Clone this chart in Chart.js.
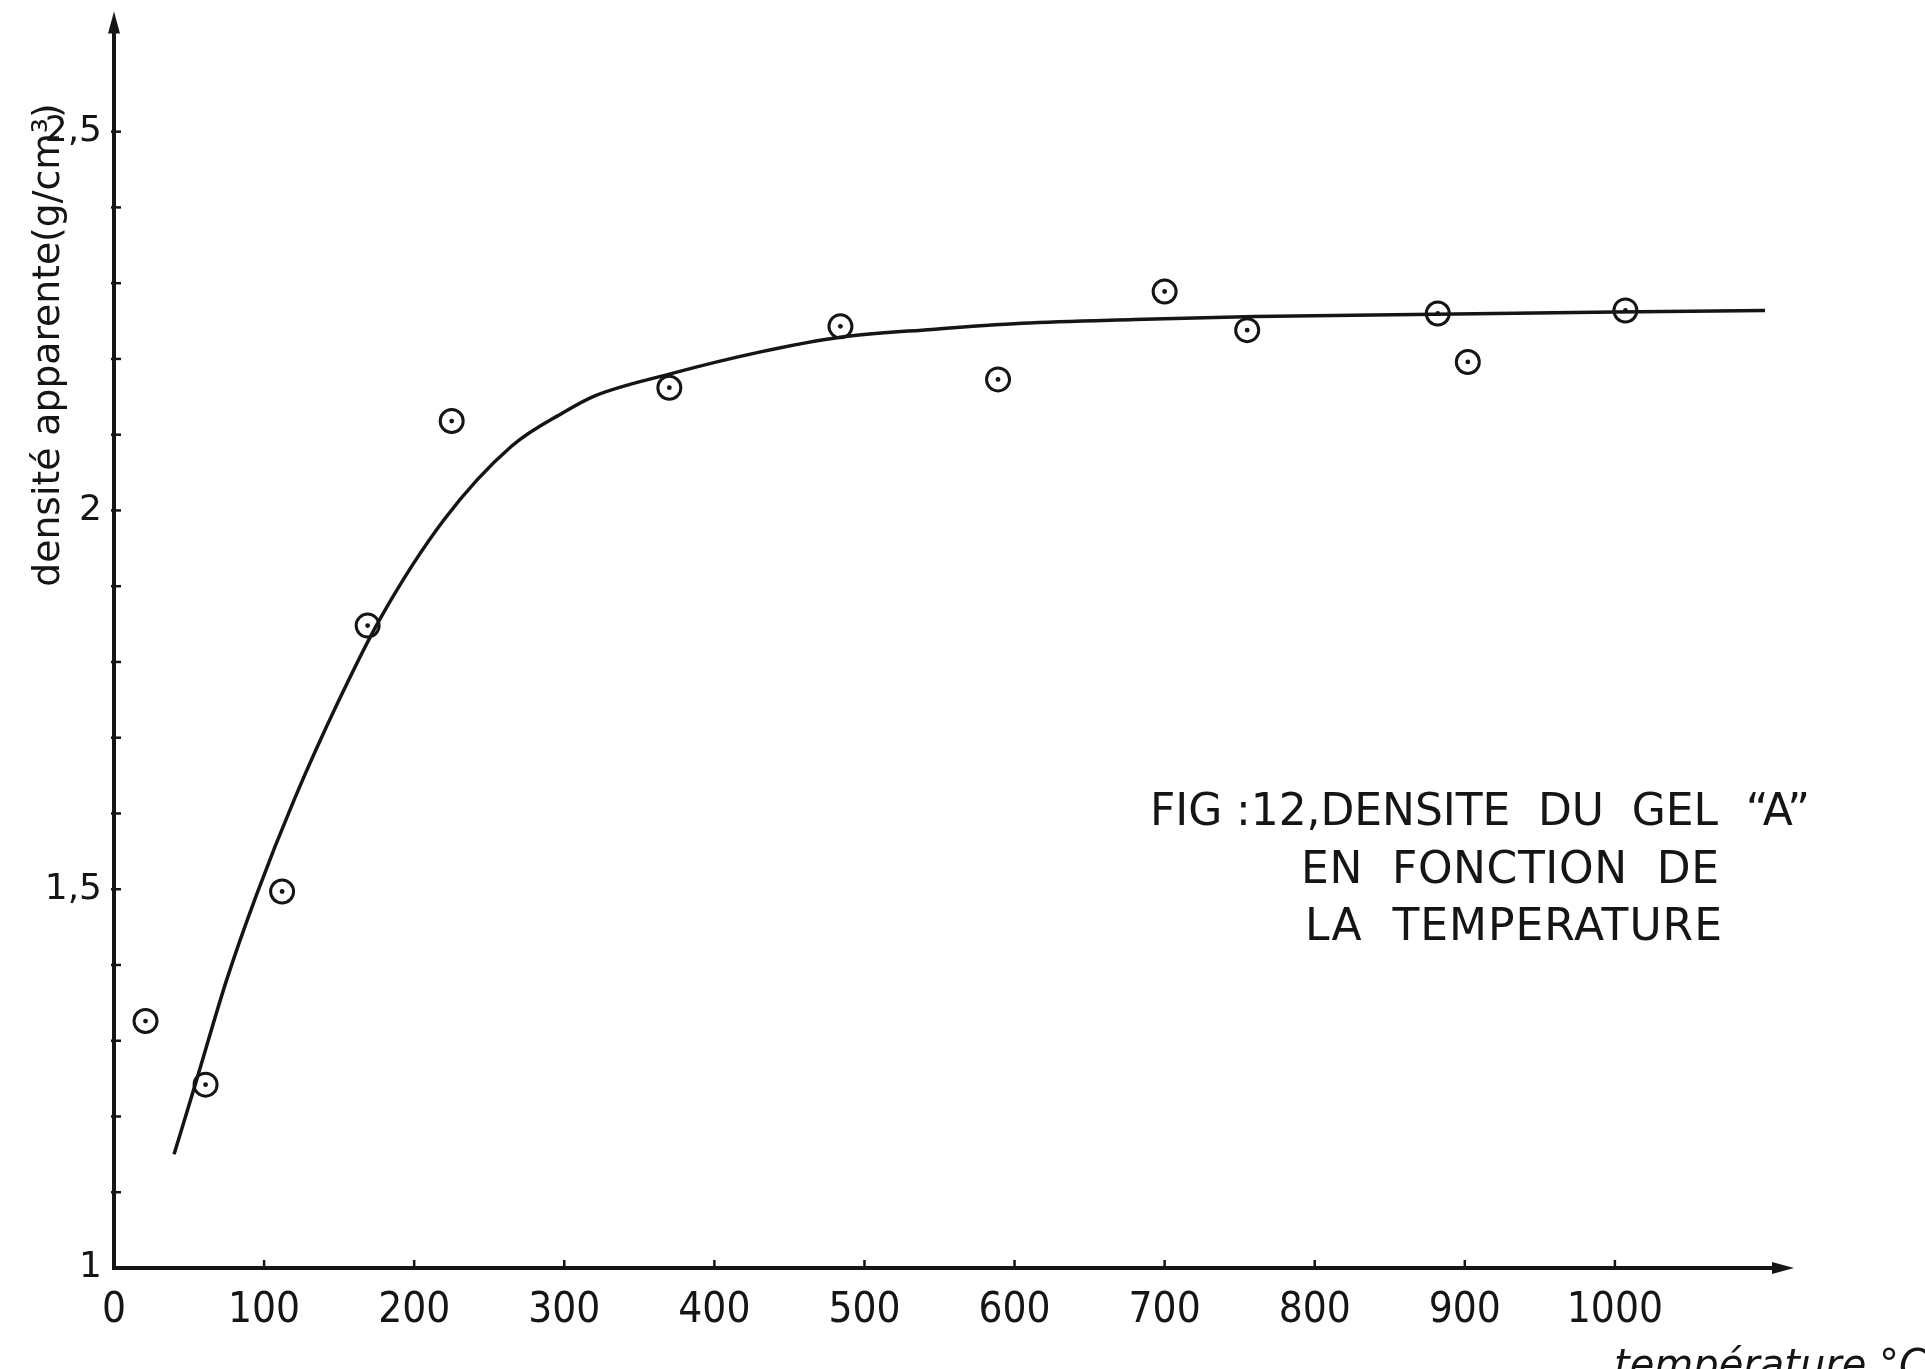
<!DOCTYPE html>
<html><head><meta charset="utf-8">
<script src="https://cdn.jsdelivr.net/npm/chart.js@4.4.1/dist/chart.umd.min.js"></script>
<style>html,body{margin:0;padding:0;background:#fff;}canvas{display:block}</style>
</head><body>
<canvas id="c" width="1925" height="1369"></canvas>
<script>
// ---- data ----
const pointTemps     = [21, 61, 112, 169, 225, 370, 484, 589, 700, 755, 882, 902, 1007];
const pointDensities = [1.326, 1.242, 1.497, 1.848, 2.118, 2.162, 2.243, 2.173, 2.289, 2.238, 2.260, 2.196, 2.264];
const curveTemps     = [40, 55, 75, 95, 120, 150, 177, 220, 265, 300, 320, 370, 430, 485, 545, 605, 680, 760, 880, 1000, 1100];
const curveDensities = [1.15, 1.248, 1.38, 1.493, 1.618, 1.75, 1.856, 1.988, 2.085, 2.13, 2.151, 2.18, 2.209, 2.229, 2.239, 2.247, 2.252, 2.256, 2.259, 2.262, 2.264];
const xTickValues = [0, 100, 200, 300, 400, 500, 600, 700, 800, 900, 1000];
const xTickLabels = ['0', '100', '200', '300', '400', '500', '600', '700', '800', '900', '1000'];
const yTickValues = [1, 1.1, 1.2, 1.3, 1.4, 1.5, 1.6, 1.7, 1.8, 1.9, 2, 2.1, 2.2, 2.3, 2.4, 2.5];
const yTickLabels = ['1', '', '', '', '', '1,5', '', '', '', '', '2', '', '', '', '', '2,5'];
const yAxisTitle = 'densité apparente(g/cm³)';
const xAxisTitle = 'température °C';
const figCaption = ['FIG :12,DENSITE  DU  GEL  “A”', 'EN  FONCTION  DE', 'LA  TEMPERATURE'];

const INK = '#151515';
const toXY = (xs, ys) => xs.map((x, i) => ({x: x, y: ys[i]}));

function fitText(ctx, text, x, y, target) {
  if ('letterSpacing' in ctx) {
    ctx.letterSpacing = '0px';
    const w = ctx.measureText(text).width;
    const ls = (target - w) / Math.max(1, text.length - 1);
    ctx.letterSpacing = ls.toFixed(2) + 'px';
    ctx.fillText(text, x, y);
    ctx.letterSpacing = '0px';
  } else {
    const w = ctx.measureText(text).width;
    ctx.save(); ctx.translate(x, y); ctx.scale(target / w, 1); ctx.fillText(text, 0, 0); ctx.restore();
  }
}

const decor = {
  id: 'decor',
  afterDraw(chart) {
    const ctx = chart.ctx, xs = chart.scales.x, ys = chart.scales.y, a = chart.chartArea;
    ctx.save();
    ctx.strokeStyle = INK; ctx.fillStyle = INK; ctx.lineWidth = 2.5;
    // inward tick marks
    xTickValues.forEach(v => { if (v === 0) return; const px = xs.getPixelForValue(v);
      ctx.beginPath(); ctx.moveTo(px, a.bottom); ctx.lineTo(px, a.bottom - 8); ctx.stroke(); });
    yTickValues.forEach(v => { if (v === 1) return; const py = ys.getPixelForValue(v);
      ctx.beginPath(); ctx.moveTo(a.left - 3, py); ctx.lineTo(a.left + 7, py); ctx.stroke(); });
    // arrowheads
    ctx.beginPath(); ctx.moveTo(a.left, a.top - 14); ctx.lineTo(a.left - 6, a.top + 8); ctx.lineTo(a.left + 6, a.top + 8); ctx.closePath(); ctx.fill();
    ctx.beginPath(); ctx.moveTo(a.right + 14, a.bottom); ctx.lineTo(a.right - 8, a.bottom - 6); ctx.lineTo(a.right - 8, a.bottom + 6); ctx.closePath(); ctx.fill();
    // y-axis title
    ctx.save();
    ctx.translate(49, 345); ctx.rotate(-Math.PI / 2);
    ctx.font = '33px "DejaVu Sans", sans-serif';
    ctx.textAlign = 'center'; ctx.textBaseline = 'middle';
    const tw = ctx.measureText(yAxisTitle).width;
    const fs = Math.max(26, Math.min(40, 33 * 483 / tw));
    ctx.font = fs.toFixed(1) + 'px "DejaVu Sans", sans-serif';
    ctx.fillText(yAxisTitle, 0, 0);
    ctx.restore();
    // caption
    ctx.font = '44px "DejaVu Sans", sans-serif';
    ctx.textAlign = 'left'; ctx.textBaseline = 'alphabetic';
    fitText(ctx, figCaption[0], 1150, 825, 660);
    fitText(ctx, figCaption[1], 1301, 883, 418);
    fitText(ctx, figCaption[2], 1305, 940, 417);
    // x-axis title (cut at bottom edge)
    ctx.font = 'italic 40px "DejaVu Sans", sans-serif';
    ctx.fillText(xAxisTitle, 1614, 1378);
    ctx.restore();
  }
};

new Chart(document.getElementById('c'), {
  type: 'scatter',
  data: {
    datasets: [
      { data: toXY(curveTemps, curveDensities), showLine: true, pointRadius: 0, borderColor: INK, borderWidth: 3.5,
        cubicInterpolationMode: 'monotone', fill: false, order: 3 },
      { data: toXY(pointTemps, pointDensities), showLine: false, pointRadius: 11.5, pointBorderWidth: 3,
        pointBorderColor: INK, pointBackgroundColor: 'rgba(0,0,0,0)', order: 2 },
      { data: toXY(pointTemps, pointDensities), showLine: false, pointRadius: 2.4, pointBorderWidth: 0,
        pointBackgroundColor: INK, order: 1 }
    ]
  },
  options: {
    responsive: false, animation: false, devicePixelRatio: 1,
    layout: { padding: { top: 25, right: 145, bottom: 0, left: 0 } },
    plugins: { legend: { display: false }, tooltip: { enabled: false } },
    scales: {
      x: {
        type: 'linear', min: 0, max: 1110,
        afterBuildTicks: s => { s.ticks = xTickValues.map(v => ({ value: v })); },
        afterFit: s => { s.height = 101; },
        grid: { display: false },
        border: { display: true, color: INK, width: 4 },
        ticks: { autoSkip: false, maxRotation: 0, padding: 10, color: INK,
          font: { family: '"Liberation Sans Narrow", "DejaVu Sans Condensed", "Liberation Sans", sans-serif', size: 42 },
          callback: v => xTickLabels[xTickValues.indexOf(v)] }
      },
      y: {
        type: 'linear', min: 1, max: 2.64,
        afterBuildTicks: s => { s.ticks = yTickValues.map(v => ({ value: v })); },
        afterFit: s => { s.width = 114; },
        grid: { display: false },
        border: { display: true, color: INK, width: 4 },
        ticks: { autoSkip: false, padding: 4, color: INK,
          font: { family: '"DejaVu Sans", sans-serif', size: 36 },
          callback: v => yTickLabels[yTickValues.indexOf(v)] }
      }
    }
  },
  plugins: [decor]
});
</script>
</body></html>
